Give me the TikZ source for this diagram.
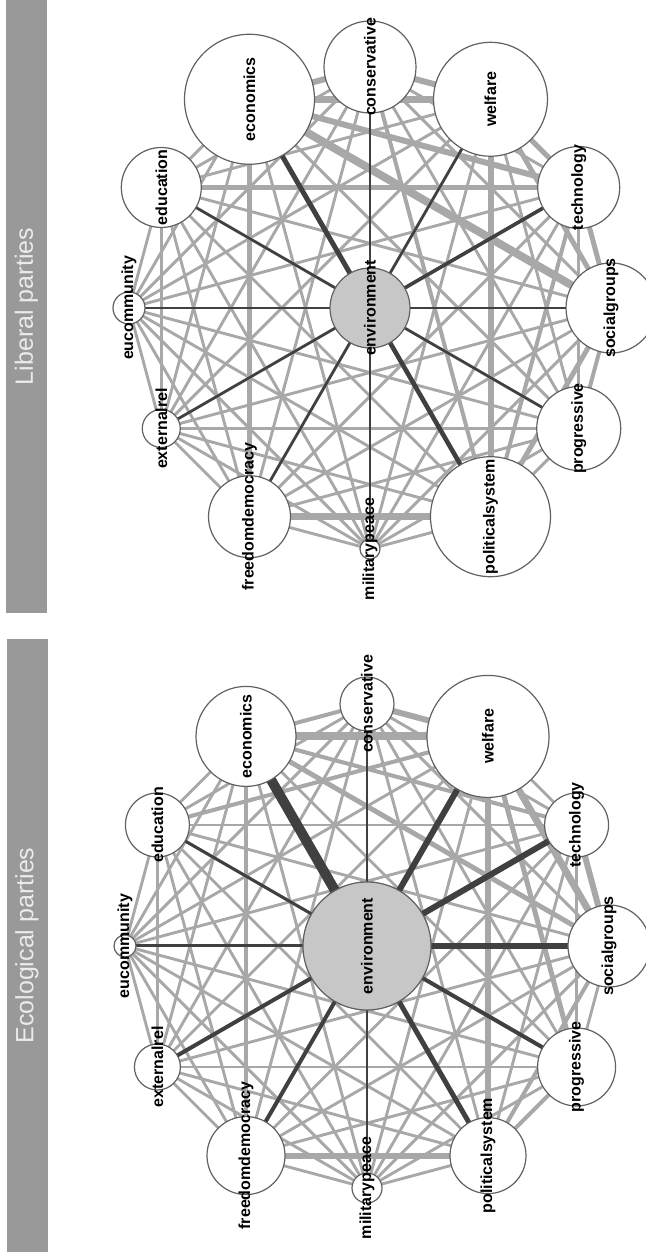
\documentclass[tikz,border=0pt]{standalone}
\usepackage{fontspec}
\setsansfont{Liberation Sans}
\usetikzlibrary{backgrounds}

\begin{document}
\begin{tikzpicture}[x=0.5pt,y=0.5pt,font=\sffamily]
    \tikzstyle{topic}=[draw=black!62,fill=white,circle,inner sep=0pt,line width=0.6pt]
    \tikzstyle{core}=[topic,fill=black!22]
    \tikzstyle{lbl}=[rotate=90,inner sep=0pt,font=\sffamily\bfseries\fontsize{8}{8}\selectfont]
    \tikzstyle{link}=[draw=black!34]
    \tikzstyle{envlink}=[draw=black!75]
    \tikzstyle{banner}=[fill=black!40,text=black!8,rotate=90,inner sep=0pt,minimum width=306.5pt,minimum height=20.5pt,font=\sffamily\fontsize{12.5}{12.5}\selectfont]

    \useasboundingbox (0,0) rectangle (646,1252);

    \node[banner] (lbar) at (26.5,945.5) {Liberal parties};
    \node[banner] (ebar) at (27,306.5) {Ecological parties};

    % liberal parties
    \node[core,minimum size=40pt,label={[lbl]center:environment}] (lc) at (370,944) {};
    \begin{scope}[shift={(370,944)}]
    \foreach \k/\txt/\r in {0/conservative/46,1/economics/65,2/education/40,3/eucommunity/16,
        4/externalrel/19,5/freedomdemocracy/41,6/militarypeace/10,7/politicalsystem/60,
        8/progressive/42,9/socialgroups/45,10/technology/41,11/welfare/57}
        \node[topic,minimum size=\r pt,label={[lbl]center:\txt}] (l\k) at (90+30*\k:241) {};
    \end{scope}

    % ecological parties
    \node[core,minimum size=64pt,label={[lbl]center:environment}] (ec) at (367,306) {};
    \begin{scope}[shift={(367,306)}]
    \foreach \k/\txt/\r in {0/conservative/27,1/economics/50,2/education/32,3/eucommunity/11,
        4/externalrel/23,5/freedomdemocracy/39,6/militarypeace/15,7/politicalsystem/38,
        8/progressive/39,9/socialgroups/41,10/technology/32,11/welfare/61}
        \node[topic,minimum size=\r pt,label={[lbl]center:\txt}] (e\k) at (90+30*\k:242) {};
    \end{scope}

    \begin{scope}[on background layer]
    \foreach \p in {l,e} {
        \foreach \i in {0,...,10} {
            \pgfmathtruncatemacro\nxt{\i+1}
            \foreach \j in {\nxt,...,11}
                \draw[link,line width=1.45pt] (\p\i.center) -- (\p\j.center);
        }
    }
    % heavier co-occurrences
    \foreach \i/\j/\w in {1/11/3.5,0/11/3,0/1/3,1/9/4,1/10/3,7/11/3,5/7/3.5,1/5/2.5,
        2/10/2.5,9/10/2.5,9/11/2.5,8/9/2,7/9/2.5,10/11/2.5,0/7/2,7/10/2}
        \draw[link,line width=\w pt] (l\i.center) -- (l\j.center);
    \foreach \i/\j/\w in {1/11/4,0/11/3,0/1/2,9/11/3.5,9/10/3,7/11/3,5/7/3,1/5/2,
        1/9/2.5,8/11/2.5,2/11/2,1/10/2,7/9/2,7/8/2}
        \draw[link,line width=\w pt] (e\i.center) -- (e\j.center);
    % links to environment
    \foreach \k/\w in {0/1,1/2.5,2/1.3,3/1.3,4/1.3,5/1.3,6/1,7/2.3,8/1.3,9/1.3,10/1.8,11/1.3}
        \draw[envlink,line width=\w pt] (lc.center) -- (l\k.center);
    \foreach \k/\w in {0/1.2,1/5,2/1.5,3/1.5,4/2,5/2,6/1.2,7/2.5,8/2,9/3,10/3,11/3}
        \draw[envlink,line width=\w pt] (ec.center) -- (e\k.center);
    \end{scope}
\end{tikzpicture}
\end{document}
